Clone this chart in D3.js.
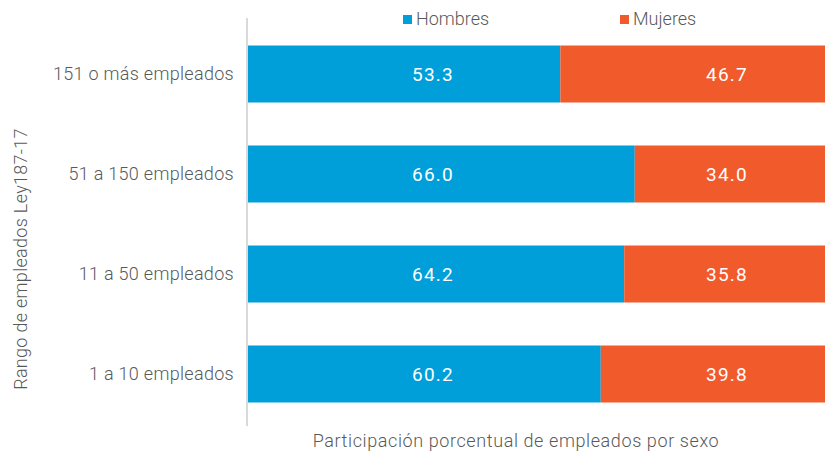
<!DOCTYPE html>
<html><head><meta charset="utf-8">
<script src="https://cdn.jsdelivr.net/npm/d3@7"></script>
<style>body{margin:0;background:#fff;overflow:hidden}svg{display:block}text{font-family:Roboto,"Open Sans",sans-serif}</style>
</head><body><svg id="c" width="825" height="452"></svg>
<script>
const categories = ["151 o más empleados","51 a 150 empleados","11 a 50 empleados","1 a 10 empleados"];
const hombres = [53.3, 66.0, 64.2, 60.2];
const mujeres = [46.7, 34.0, 35.8, 39.8];
const seriesNames = ["Hombres","Mujeres"];
const colors = ["#009FDA","#F15A2B"];

(function(){
const svg = d3.select("#c");
const mLeft = 248, mRight = 834, mTop = 24, mBottom = 424;
const x = d3.scaleLinear().domain([0,100]).range([mLeft,mRight]);
const y = d3.scaleBand().domain(categories).range([mTop,mBottom]).paddingInner(0.43).paddingOuter(0.215);
const txt = "#595959";

const data = categories.map((c,i)=>({c, h:hombres[i], m:mujeres[i]}));
const g = svg.append("g");
g.selectAll("rect.h").data(data).join("rect").attr("class","h").attr("x",x(0)).attr("y",d=>y(d.c))
 .attr("width",d=>x(d.h)-x(0)).attr("height",y.bandwidth()).attr("fill",colors[0]);
g.selectAll("rect.m").data(data).join("rect").attr("class","m").attr("x",d=>x(d.h)).attr("y",d=>y(d.c))
 .attr("width",d=>x(d.h+d.m)-x(d.h)).attr("height",y.bandwidth()).attr("fill",colors[1]);

g.selectAll("text.h").data(data).join("text").attr("class","h").attr("x",x(0)+185).attr("y",d=>y(d.c)+y.bandwidth()/2)
 .attr("text-anchor","middle").attr("dy","0.36em").attr("fill","#fff").attr("font-size",19)
 .attr("letter-spacing","1.2px").text(d=>d.h.toFixed(1));
g.selectAll("text.m").data(data).join("text").attr("class","m").attr("x",727).attr("y",d=>y(d.c)+y.bandwidth()/2)
 .attr("text-anchor","middle").attr("dy","0.36em").attr("fill","#fff").attr("font-size",19)
 .attr("letter-spacing","1.2px").text(d=>d.m.toFixed(1));

const ya = svg.append("g").attr("transform",`translate(${mLeft-1},0)`).call(d3.axisLeft(y).tickSize(0).tickPadding(13));
ya.select(".domain").remove();
ya.selectAll("text").attr("font-size",18).attr("fill",txt).attr("font-family","Roboto").attr("font-weight",300).attr("letter-spacing","0.3px");
svg.append("line").attr("x1",mLeft-1).attr("x2",mLeft-1).attr("y1",18).attr("y2",426).attr("stroke","#d9d9d9").attr("stroke-width",2);

svg.append("text").attr("x",516).attr("y",447).attr("text-anchor","middle").attr("font-size",18)
 .attr("fill",txt).attr("font-weight",300).attr("letter-spacing","0.6px").text("Participación porcentual de empleados por sexo");
svg.append("text").attr("transform","translate(27,259) rotate(-90)").attr("text-anchor","middle").attr("font-size",18)
 .attr("fill",txt).attr("font-weight",300).attr("letter-spacing","0.3px").text("Rango de empleados Ley187-17");

const lx = [403, 620];
seriesNames.forEach((n,i)=>{
  svg.append("rect").attr("x",lx[i]).attr("y",15).attr("width",9).attr("height",9).attr("fill",colors[i]);
  svg.append("text").attr("x",lx[i]+13).attr("y",25).attr("font-size",18).attr("fill",txt).attr("font-weight",300).text(n);
});
})();
</script></body></html>
